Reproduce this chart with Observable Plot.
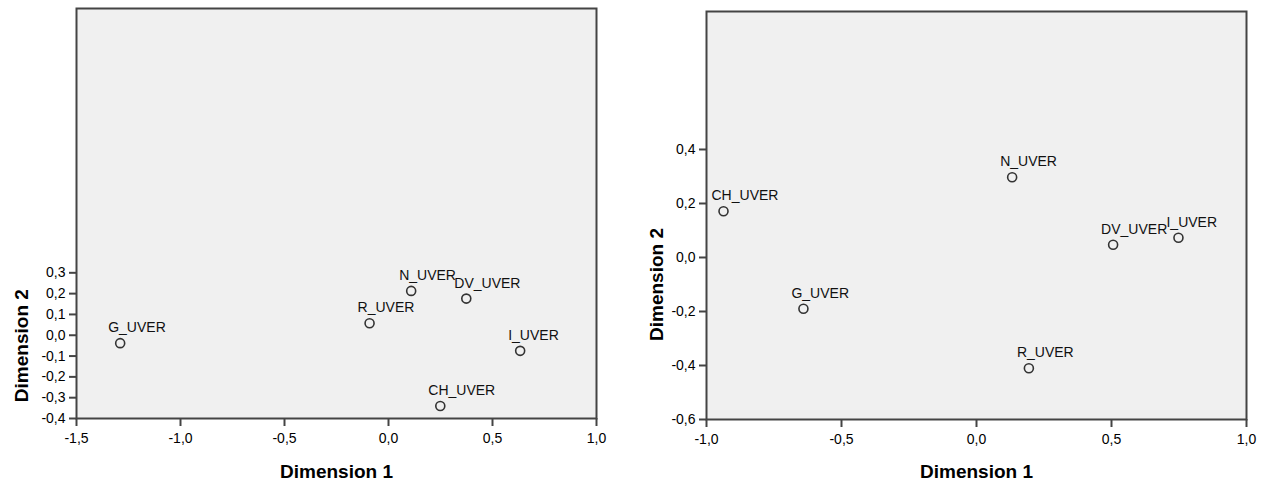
<!DOCTYPE html>
<html>
<head>
<meta charset="utf-8">
<script src="https://cdn.jsdelivr.net/npm/d3@7"></script>
<script src="https://cdn.jsdelivr.net/npm/@observablehq/plot@0.6"></script>
<style>
  html, body { margin: 0; padding: 0; background: #fff; }
  #wrap { position: relative; width: 1273px; height: 484px; }
  #left { position: absolute; left: 0; top: 0; }
  #right { position: absolute; left: 630px; top: 0; }
</style>
</head>
<body>
<div id="wrap"><div id="left"></div><div id="right"></div></div>
<script>
// ---- data ----
const names = ["CH_UVER", "DV_UVER", "G_UVER", "I_UVER", "N_UVER", "R_UVER"];

// left panel
const leftDim1 = [0.249, 0.374, -1.29, 0.633, 0.109, -0.091];
const leftDim2 = [-0.34, 0.176, -0.038, -0.075, 0.213, 0.058];
const leftXTicks = [-1.5, -1.0, -0.5, 0.0, 0.5, 1.0];
const leftYTicks = [-0.4, -0.3, -0.2, -0.1, 0.0, 0.1, 0.2, 0.3];
const leftXDomain = [-1.5, 1.0];
const leftYDomain = [-0.4, 1.57];

// right panel
const rightDim1 = [-0.937, 0.506, -0.641, 0.748, 0.132, 0.194];
const rightDim2 = [0.171, 0.047, -0.19, 0.073, 0.297, -0.41];
const rightXTicks = [-1.0, -0.5, 0.0, 0.5, 1.0];
const rightYTicks = [-0.6, -0.4, -0.2, 0.0, 0.2, 0.4];
const rightXDomain = [-1.0, 1.0];
const rightYDomain = [-0.6, 0.911];

const xTitle = "Dimension 1";
const yTitle = "Dimension 2";

const fmt = d => (Math.abs(d) < 1e-9 ? 0 : d).toFixed(1).replace(".", ",");

function panel({d1, d2, xTicks, yTicks, xDomain, yDomain, width, mL, mR, mT, mB, yTitleDx, xTitleDy}) {
  const pts = names.map((n, i) => ({name: n, x: d1[i], y: d2[i]}));
  const yMid = (d3.min(yTicks) + d3.max(yTicks)) / 2;
  return Plot.plot({
    width, height: 484,
    marginLeft: mL, marginRight: mR, marginTop: mT, marginBottom: mB,
    x: {domain: xDomain},
    y: {domain: yDomain},
    style: {fontFamily: "'Liberation Sans', Arial, sans-serif", fontSize: "14px", color: "#000", background: "#fff", overflow: "visible"},
    marks: [
      Plot.frame({fill: "#f0f0f0", stroke: null}),
      Plot.axisX({ticks: xTicks, tickFormat: fmt, tickSize: 8, tickPadding: 7, label: null, fontSize: 14, stroke: "#444", strokeWidth: 2}),
      Plot.axisY({ticks: yTicks, tickFormat: fmt, tickSize: 7, tickPadding: 4, label: null, fontSize: 14, stroke: "#444", strokeWidth: 2}),
      Plot.dot(pts, {x: "x", y: "y", r: 4.5, stroke: "#333", strokeWidth: 1.6, fill: "none"}),
      Plot.text(pts, {x: "x", y: "y", text: "name", textAnchor: "start", lineAnchor: "bottom", dx: -12, dy: -11, fontSize: 14, fill: "#111"}),
      Plot.text([xTitle], {frameAnchor: "bottom", lineAnchor: "bottom", dy: xTitleDy, fontSize: 19, fontWeight: "bold", fill: "#000"}),
      Plot.text([yTitle], {x: xDomain[0], y: [yMid], rotate: -90, lineAnchor: "bottom", dx: yTitleDx, fontSize: 19, fontWeight: "bold", fill: "#000"}),
      Plot.frame({stroke: "#444", strokeWidth: 2})
    ]
  });
}

document.getElementById("left").append(panel({
  d1: leftDim1, d2: leftDim2, xTicks: leftXTicks, yTicks: leftYTicks,
  xDomain: leftXDomain, yDomain: leftYDomain,
  width: 630, mL: 76, mR: 34, mT: 8, mB: 66, yTitleDx: -49, xTitleDy: 59
}));
document.getElementById("right").append(panel({
  d1: rightDim1, d2: rightDim2, xTicks: rightXTicks, yTicks: rightYTicks,
  xDomain: rightXDomain, yDomain: rightYDomain,
  width: 643, mL: 76, mR: 27, mT: 11, mB: 65, yTitleDx: -44, xTitleDy: 58
}));
</script>
</body>
</html>
